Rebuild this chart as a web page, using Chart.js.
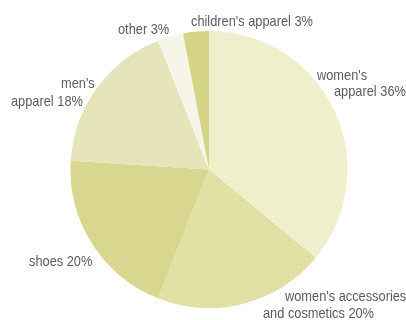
<!DOCTYPE html>
<html><head><meta charset="utf-8">
<script src="https://cdn.jsdelivr.net/npm/chart.js@4/dist/chart.umd.min.js"></script>
<style>html,body{margin:0;padding:0;background:#fff}#wrap{position:relative;width:406px;height:320px}</style>
</head><body><div id="wrap"><canvas id="c" width="406" height="320"></canvas></div>
<script>
const categories = ["women's apparel", "women's accessories and cosmetics", "shoes", "men's apparel", "other", "children's apparel"];
const shares = [36, 20, 20, 18, 3, 3];
const baseColors = ["#eeeec9", "#e2e1a6", "#d8d68f", "#e5e4bb", "#f4f4e8", "#d6d487"];
const dotColors = ["#f6f6e2", "#d8d795", null, null, "#fbfbf5", null];
const labelLines = [
  [["women's", 317, 80], ["apparel 36%", 334, 96]],
  [["women's accessories", 285, 301], ["and cosmetics 20%", 263, 318]],
  [["shoes 20%", 29, 266]],
  [["men's", 61, 88], ["apparel 18%", 11, 106]],
  [["other 3%", 118, 34]],
  [["children's apparel 3%", 191, 26]]
];
function makeFill(ctx, base, dot){
  if(!dot) return base;
  const p = document.createElement('canvas'); p.width = 4; p.height = 4;
  const g = p.getContext('2d');
  g.fillStyle = base; g.fillRect(0,0,4,4);
  g.fillStyle = dot; g.fillRect(0,0,1,1); g.fillRect(2,2,1,1);
  return ctx.createPattern(p, 'repeat');
}
const canvas = document.getElementById('c');
const ctx = canvas.getContext('2d');
const fills = baseColors.map((b,i)=>makeFill(ctx,b,dotColors[i]));
const labelPlugin = {
  id:'labels',
  afterDraw(chart){
    const c = chart.ctx;
    c.save();
    c.fillStyle = '#5c5c5c';
    c.font = '15px "Liberation Sans", "DejaVu Sans", sans-serif';
    c.textBaseline = 'alphabetic';
    const sx = 122 / c.measureText("children's apparel 3%").width;
    labelLines.forEach(lines=>lines.forEach(([t,x,y])=>{
      c.save(); c.translate(x,y); c.scale(sx,1); c.fillText(t,0,0); c.restore();
    }));
    c.restore();
  }
};
new Chart(ctx, {
  type:'pie',
  data:{labels:categories, datasets:[{data:shares, backgroundColor:fills, borderWidth:0}]},
  options:{
    responsive:false, animation:false,
    layout:{padding:{left:69, right:57, top:31, bottom:12}},
    plugins:{legend:{display:false}, tooltip:{enabled:false}}
  },
  plugins:[labelPlugin]
});
</script></body></html>
